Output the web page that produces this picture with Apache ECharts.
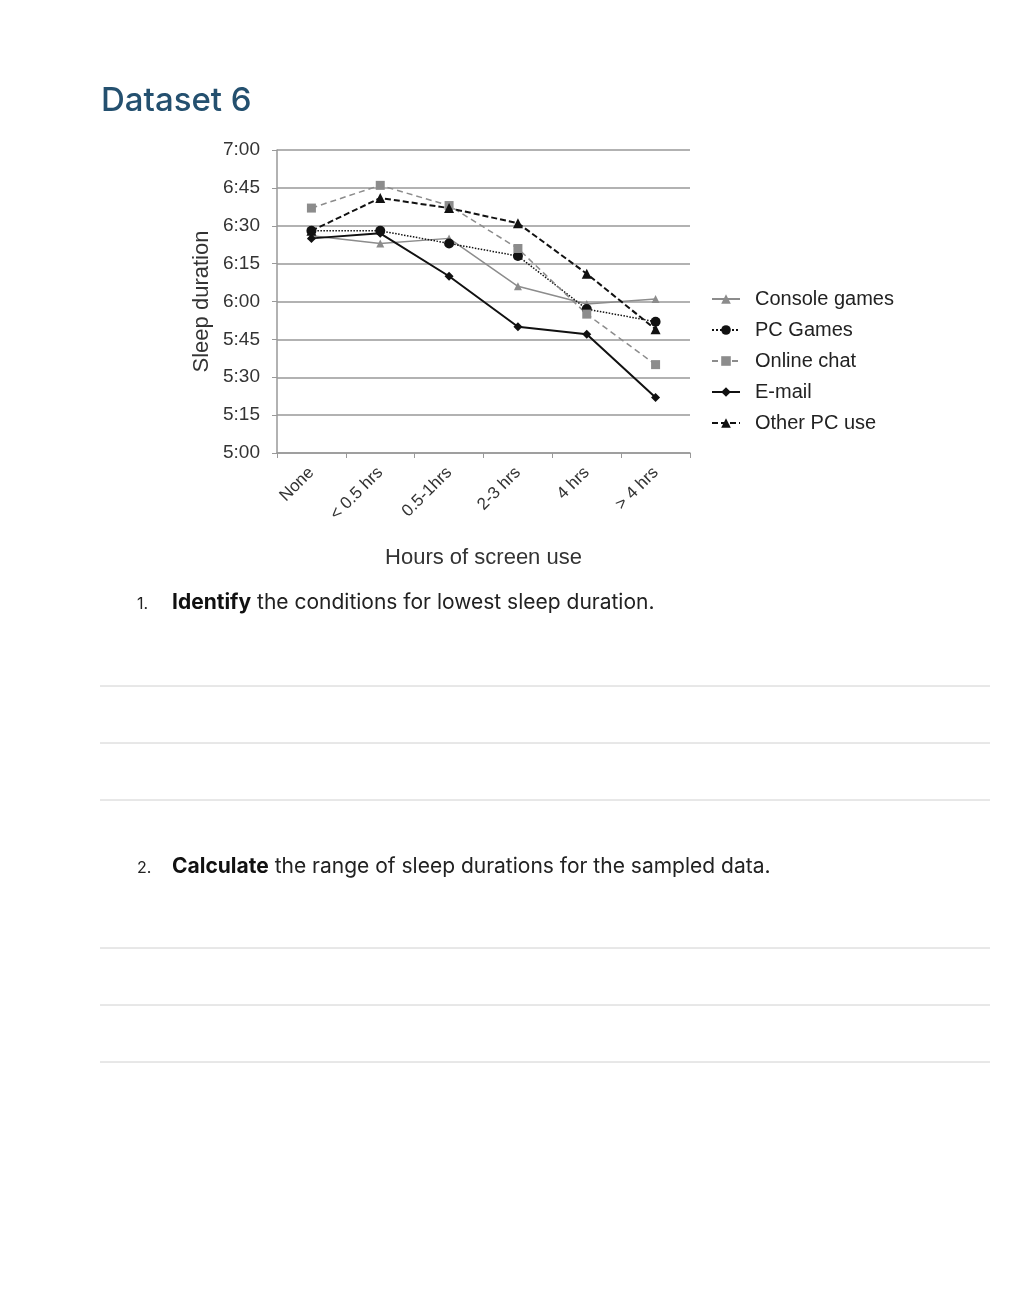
<!DOCTYPE html>
<html>
<head>
<meta charset="utf-8">
<script src="https://cdn.jsdelivr.net/npm/echarts@6/dist/echarts.min.js"></script>
<style>
html,body{margin:0;padding:0;background:#fff;}
#c{width:1032px;height:1298px;}
</style>
</head>
<body>
<div id="c"></div>
<script>
// Values are sleep durations in minutes (e.g. 390 = 6:30)
const categories = ['None', '< 0.5 hrs', '0.5-1hrs', '2-3 hrs', '4 hrs', '> 4 hrs'];
const consoleGames = [386, 383, 385, 366, 359, 361];
const pcGames      = [388, 388, 383, 378, 357, 352];
const onlineChat   = [397, 406, 398, 381, 355, 335];
const email        = [385, 387, 370, 350, 347, 322];
const otherPC      = [388, 401, 397, 391, 371, 349];
const yTicks = {min: 300, max: 420, interval: 15};

function fmt(v){ const h = Math.floor(v/60), m = v%60; return h + ':' + (m<10?'0':'') + m; }

const chart = echarts.init(document.getElementById('c'));
const ff = '"Liberation Sans", Arial, sans-serif';
const qf = 'Inter, "Open Sans", sans-serif';

chart.setOption({
  animation: false,
  backgroundColor: '#fff',
  grid: {left: 277, top: 150, right: 342, bottom: 845, containLabel: false},
  legend: {
    orient: 'vertical', left: 706, top: 284, itemGap: 11, itemWidth: 28, itemHeight: 12,
    textStyle: {fontFamily: ff, fontSize: 20, lineHeight: 20, color: '#222', padding: [0,0,0,10]},
    data: ['Console games','PC Games','Online chat','E-mail','Other PC use']
  },
  xAxis: {
    type: 'category', data: categories, boundaryGap: true,
    name: 'Hours of screen use', nameLocation: 'middle', nameGap: 94,
    nameTextStyle: {fontFamily: ff, fontSize: 22, color: '#333'},
    axisLine: {lineStyle: {color: '#999', width: 1.5}},
    axisTick: {show: true, length: 5, lineStyle: {color: '#999'}},
    axisLabel: {rotate: 45, fontFamily: ff, fontSize: 17, color: '#333', margin: 17}
  },
  yAxis: {
    type: 'value', min: yTicks.min, max: yTicks.max, interval: yTicks.interval,
    name: 'Sleep duration', nameLocation: 'middle', nameGap: 64, nameRotate: 90,
    nameTextStyle: {fontFamily: ff, fontSize: 22, color: '#333'},
    axisLine: {show: true, lineStyle: {color: '#999', width: 1.5}},
    axisTick: {show: true, length: 5, lineStyle: {color: '#999'}},
    axisLabel: {formatter: fmt, fontFamily: ff, fontSize: 19, color: '#333', margin: 17},
    splitLine: {lineStyle: {color: '#999', width: 1.5}}
  },
  series: [
    {name: 'Console games', type: 'line', data: consoleGames, symbol: 'triangle', symbolSize: 8,
     lineStyle: {color: '#8c8c8c', width: 1.5}, itemStyle: {color: '#8c8c8c'}},
    {name: 'PC Games', type: 'line', data: pcGames, symbol: 'circle', symbolSize: 10,
     lineStyle: {color: '#111', width: 1.5, type: 'dotted'}, itemStyle: {color: '#111'}},
    {name: 'Online chat', type: 'line', data: onlineChat, symbol: 'rect', symbolSize: 9,
     lineStyle: {color: '#8c8c8c', width: 1.5, type: [6,4]}, itemStyle: {color: '#8c8c8c'}},
    {name: 'E-mail', type: 'line', data: email, symbol: 'diamond', symbolSize: 9,
     lineStyle: {color: '#111', width: 2}, itemStyle: {color: '#111'}},
    {name: 'Other PC use', type: 'line', data: otherPC, symbol: 'triangle', symbolSize: 10,
     lineStyle: {color: '#111', width: 2, type: [6,3]}, itemStyle: {color: '#111'}}
  ],
  graphic: [
    {type: 'text', left: 101, top: 85, style: {text: 'Dataset 6', font: '500 33px ' + qf, fill: '#24506f'}},
    {type: 'text', left: 137, top: 596, style: {text: '1.', font: '16px ' + qf, fill: '#222'}},
    {type: 'text', left: 172, top: 592, style: {
      text: '{b|Identify} the conditions for lowest sleep duration.',
      font: '21px ' + qf, fill: '#222',
      rich: {b: {fontWeight: 'bold', fontSize: 21, fontFamily: 'Inter, "Open Sans", sans-serif', fill: '#111'}}
    }},
    {type: 'text', left: 137, top: 860, style: {text: '2.', font: '16px ' + qf, fill: '#222'}},
    {type: 'text', left: 172, top: 856, style: {
      text: '{b|Calculate} the range of sleep durations for the sampled data.',
      font: '21px ' + qf, fill: '#222',
      rich: {b: {fontWeight: 'bold', fontSize: 21, fontFamily: 'Inter, "Open Sans", sans-serif', fill: '#111'}}
    }},
    {type: 'line', shape: {x1: 100, y1: 686, x2: 990, y2: 686}, style: {stroke: '#d0d0d0', lineWidth: 1}},
    {type: 'line', shape: {x1: 100, y1: 743, x2: 990, y2: 743}, style: {stroke: '#d0d0d0', lineWidth: 1}},
    {type: 'line', shape: {x1: 100, y1: 800, x2: 990, y2: 800}, style: {stroke: '#d0d0d0', lineWidth: 1}},
    {type: 'line', shape: {x1: 100, y1: 948, x2: 990, y2: 948}, style: {stroke: '#d0d0d0', lineWidth: 1}},
    {type: 'line', shape: {x1: 100, y1: 1005, x2: 990, y2: 1005}, style: {stroke: '#d0d0d0', lineWidth: 1}},
    {type: 'line', shape: {x1: 100, y1: 1062, x2: 990, y2: 1062}, style: {stroke: '#d0d0d0', lineWidth: 1}}
  ]
});
</script>
</body>
</html>
